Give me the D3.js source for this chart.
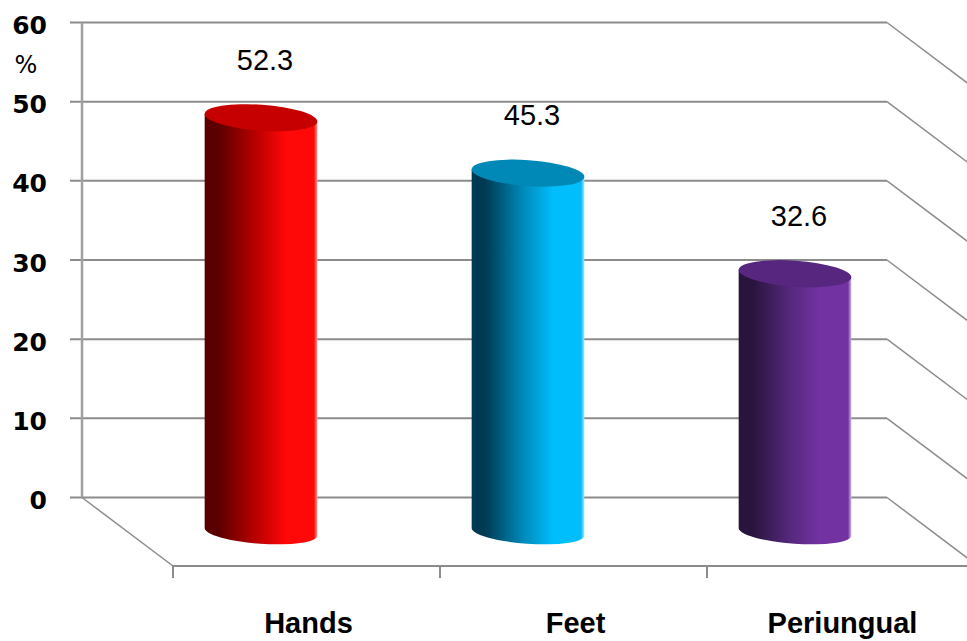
<!DOCTYPE html>
<html>
<head>
<meta charset="utf-8">
<script src="https://cdn.jsdelivr.net/npm/d3@7"></script>
<style>
  html, body { margin: 0; padding: 0; background: #fff; }
  svg { display: block; }
</style>
</head>
<body>
<svg id="chart" width="967" height="641"></svg>
<script>
// Chart data
const categories = ["Hands", "Feet", "Periungual"];
const values = [52.3, 45.3, 32.6];
const valueLabels = ["52.3", "45.3", "32.6"];
const yTicks = [0, 10, 20, 30, 40, 50, 60];
const yUnit = "%";

// Cylinder colours: [dark side, mid, light side, rim highlight, top cap]
const palettes = [
  ["#5a0000", "#b80000", "#ff0808", "#ff9a9a", "#c60000"],
  ["#003a52", "#0088b8", "#00bdfb", "#a8e4ff", "#0088b6"],
  ["#28143c", "#54287c", "#7332a2", "#cdb6e2", "#57267f"]
];

const svg = d3.select("#chart");

// 3-D box geometry: back wall and the depth offset of the floor
const wallLeft = 82, wallRight = 887;
const depthX = 91, depthY = 68.5;

const yBack = d3.scaleLinear().domain([0, 60]).range([497.5, 22.5]);
// bars stand half-way between back wall and front edge
const yBar = v => yBack(v) + depthY / 2;

const xFront = d3.scaleBand().domain(categories)
  .range([wallLeft + depthX, wallLeft + depthX + 3 * 267]);

const gridColor = "#8c8c8c";

// Back-wall gridlines with small ticks to the left
const grid = svg.append("g");
grid.selectAll("line.h").data(yTicks).join("line")
  .attr("x1", 70).attr("x2", wallRight)
  .attr("y1", d => yBack(d)).attr("y2", d => yBack(d))
  .attr("stroke", gridColor).attr("stroke-width", 2);

// Right side wall lines running toward the viewer
grid.selectAll("line.d").data(yTicks).join("line")
  .attr("x1", wallRight).attr("y1", d => yBack(d))
  .attr("x2", wallRight + depthX).attr("y2", d => yBack(d) + depthY)
  .attr("stroke", gridColor).attr("stroke-width", 1.5);

// Left wall edge
grid.append("line")
  .attr("x1", wallLeft).attr("x2", wallLeft)
  .attr("y1", yBack(60)).attr("y2", yBack(0))
  .attr("stroke", "#a0a0a0").attr("stroke-width", 2.5);

// Floor: left diagonal and front edge
grid.append("line")
  .attr("x1", wallLeft).attr("y1", yBack(0))
  .attr("x2", wallLeft + depthX).attr("y2", yBack(0) + depthY)
  .attr("stroke", gridColor).attr("stroke-width", 1.5);
grid.append("line")
  .attr("x1", wallLeft + depthX).attr("y1", yBack(0) + depthY)
  .attr("x2", 967).attr("y2", yBack(0) + depthY)
  .attr("stroke", gridColor).attr("stroke-width", 2);

// Category ticks on the front edge
const tickXs = categories.map(c => xFront(c));
grid.selectAll("line.t").data(tickXs).join("line")
  .attr("x1", d => d).attr("x2", d => d)
  .attr("y1", yBack(0) + depthY).attr("y2", yBack(0) + depthY + 12)
  .attr("stroke", gridColor).attr("stroke-width", 2);

// Y-axis labels
svg.append("g").selectAll("text").data(yTicks).join("text")
  .attr("x", 47).attr("y", d => yBack(d) + 3)
  .attr("text-anchor", "end").attr("dominant-baseline", "central")
  .attr("font-family", "DejaVu Sans").attr("font-weight", "bold")
  .attr("font-size", 25).attr("fill", "#000")
  .text(d => d);

svg.append("text")
  .attr("x", 26).attr("y", yBack(55) + 3)
  .attr("text-anchor", "middle").attr("dominant-baseline", "central")
  .attr("font-family", "DejaVu Sans").attr("font-size", 24).attr("fill", "#000")
  .text(yUnit);

// Gradients for the cylinder bodies
const defs = svg.append("defs");
palettes.forEach((p, i) => {
  const g = defs.append("linearGradient").attr("id", "cyl" + i)
    .attr("x1", "0%").attr("x2", "100%").attr("y1", "0%").attr("y2", "0%");
  [[0, p[0]], [0.12, p[0]], [0.45, p[1]], [0.72, p[2]], [0.97, p[2]], [1, p[3]]]
    .forEach(([o, c]) => g.append("stop").attr("offset", o).attr("stop-color", c));
});

// Cylinders
const barW = xFront.bandwidth() * 0.423;
const rx = barW / 2, ry = 13, tilt = 4;
const ca = rx * Math.cos(tilt * Math.PI / 180), sa = rx * Math.sin(tilt * Math.PI / 180);

const bars = svg.append("g");
categories.forEach((c, i) => {
  const cx = xFront(c) + xFront.bandwidth() / 2 - depthX / 2;
  const yT = yBar(values[i]);
  const yB = yBar(0);
  const body = `M${cx - ca},${yT - sa} L${cx - ca},${yB - sa} ` +
    `A${rx},${ry - 1} ${tilt} 0 0 ${cx + ca},${yB + sa} ` +
    `L${cx + ca},${yT + sa} Z`;
  bars.append("path").attr("d", body).attr("fill", `url(#cyl${i})`);
  bars.append("ellipse")
    .attr("cx", cx).attr("cy", yT).attr("rx", rx).attr("ry", ry)
    .attr("transform", `rotate(${tilt},${cx},${yT})`)
    .attr("fill", palettes[i][4]);

  // value label above the bar
  svg.append("text")
    .attr("x", cx + 4).attr("y", yT - 48)
    .attr("text-anchor", "middle")
    .attr("font-family", "Liberation Sans").attr("font-size", 29)
    .attr("fill", "#000")
    .text(valueLabels[i]);
});

// Category labels
svg.append("g").selectAll("text").data(categories).join("text")
  .attr("x", d => xFront(d) + xFront.bandwidth() / 2 + 2)
  .attr("y", 633)
  .attr("text-anchor", "middle")
  .attr("font-family", "Liberation Sans").attr("font-weight", "bold")
  .attr("font-size", 29).attr("fill", "#000")
  .text(d => d);
</script>
</body>
</html>
